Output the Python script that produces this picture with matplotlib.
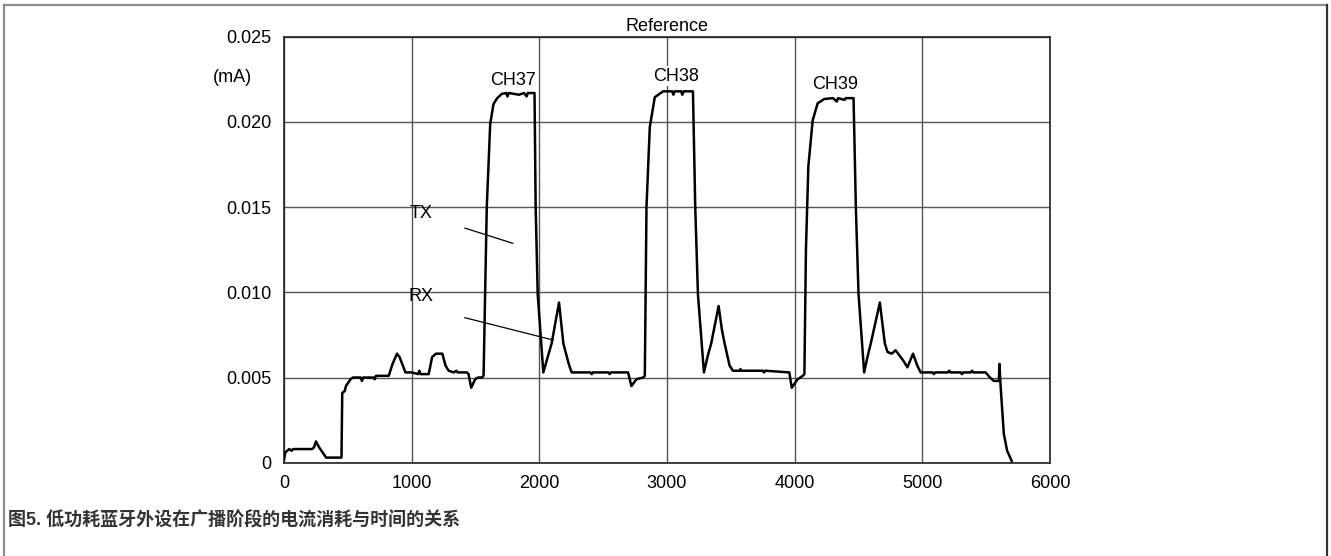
import matplotlib
matplotlib.use('Agg')
import matplotlib.pyplot as plt
from matplotlib.lines import Line2D
from matplotlib.ticker import FuncFormatter

plt.rcParams['font.family'] = ['Liberation Sans', 'Noto Sans CJK SC']

# current trace of the advertising event (time, mA)
time = [0, 10, 40, 60, 70, 220, 235, 250, 275, 312, 330, 450,
        456, 475, 485, 521, 540, 600, 610, 620, 700, 710, 720, 820,
        850, 885, 905, 951, 1000, 1050, 1060, 1070, 1133, 1160, 1190, 1240,
        1265, 1289, 1330, 1350, 1360, 1432, 1445, 1466, 1497, 1520, 1549, 1563,
        1588, 1615, 1641, 1670, 1706, 1740, 1750, 1760, 1840, 1880, 1900, 1910,
        1953, 1962, 1971, 1987, 2031, 2065, 2096, 2154, 2188, 2230, 2253, 2400,
        2410, 2420, 2540, 2550, 2560, 2695, 2721, 2760, 2813, 2826, 2839, 2865,
        2904, 2969, 3040, 3050, 3060, 3110, 3120, 3130, 3203, 3221, 3242, 3289,
        3320, 3346, 3404, 3430, 3451, 3490, 3516, 3570, 3575, 3580, 3750, 3760,
        3770, 3958, 3977, 4023, 4063, 4076, 4088, 4107, 4141, 4180, 4232, 4300,
        4330, 4340, 4390, 4400, 4461, 4479, 4500, 4544, 4570, 4596, 4667, 4706,
        4727, 4760, 4790, 4810, 4850, 4883, 4927, 4960, 4987, 5080, 5090, 5100,
        5200, 5210, 5220, 5300, 5310, 5320, 5380, 5390, 5400, 5495, 5530, 5560,
        5599, 5604, 5612, 5625, 5638, 5664, 5700]
current = [0.0002, 0.0006, 0.0008, 0.0007, 0.0008, 0.0008, 0.0009, 0.00125, 0.0009, 0.0005, 0.0003, 0.0003,
           0.0041, 0.0042, 0.0045, 0.0049, 0.0050, 0.0050, 0.0048, 0.0050, 0.0050, 0.0049, 0.0051, 0.0051,
           0.0058, 0.0064, 0.0062, 0.0053, 0.0053, 0.0052, 0.0054, 0.0052, 0.0052, 0.0062, 0.0064, 0.0064,
           0.0057, 0.0054, 0.0053, 0.0054, 0.0053, 0.0053, 0.0052, 0.0044, 0.0049, 0.0050, 0.0050, 0.0051,
           0.0150, 0.0199, 0.02106, 0.0214, 0.02165, 0.0217, 0.0215, 0.0217, 0.0216, 0.0217, 0.0215, 0.0217,
           0.0217, 0.0217, 0.0150, 0.0099, 0.0053, 0.0062, 0.0070, 0.0094, 0.0070, 0.0058, 0.0053, 0.0053,
           0.0052, 0.0053, 0.0053, 0.0052, 0.0053, 0.0053, 0.0045, 0.0049, 0.0050, 0.0051, 0.0150, 0.0197,
           0.02145, 0.0218, 0.0218, 0.0216, 0.0218, 0.0218, 0.0216, 0.0218, 0.0218, 0.0150, 0.0099, 0.0053,
           0.0063, 0.0070, 0.0092, 0.0078, 0.0070, 0.0057, 0.0054, 0.0054, 0.0055, 0.0054, 0.0054, 0.0053,
           0.0054, 0.0053, 0.0044, 0.0049, 0.0051, 0.0052, 0.0125, 0.0174, 0.0201, 0.0211, 0.02135, 0.0214,
           0.0212, 0.0214, 0.0213, 0.0214, 0.0214, 0.0150, 0.0099, 0.0053, 0.0062, 0.0070, 0.0094, 0.0070,
           0.0065, 0.0064, 0.0066, 0.0064, 0.0060, 0.0056, 0.0064, 0.0057, 0.0053, 0.0053, 0.0052, 0.0053,
           0.0053, 0.0054, 0.0053, 0.0053, 0.0052, 0.0053, 0.0053, 0.0054, 0.0053, 0.0053, 0.0050, 0.0048,
           0.0048, 0.0058, 0.0046, 0.0031, 0.0017, 0.0007, 0.0001]

x_ticks = [0, 1000, 2000, 3000, 4000, 5000, 6000]
y_ticks = [0, 0.005, 0.010, 0.015, 0.020, 0.025]

channels = ['CH37', 'CH38', 'CH39']
channel_pos = [(1795, 0.02246), (3069, 0.02269), (4320, 0.0222)]

fig = plt.figure(figsize=(13.31, 5.56), dpi=100)
ax = fig.add_axes([0.2134, 0.1678, 0.5755, 0.766])

ax.plot(time, current, color='black', lw=1.8, zorder=3)

ax.set_xlim(0, 6000)
ax.set_ylim(0, 0.025)
ax.set_xticks(x_ticks)
ax.set_yticks(y_ticks)
ax.yaxis.set_major_formatter(FuncFormatter(lambda v, p: '0' if v == 0 else '%.3f' % v))
ax.tick_params(length=0, labelsize=13, pad=9)
ax.grid(True, color='#555555', lw=1.0)
for s in ax.spines.values():
    s.set_color('#222222')
    s.set_linewidth(1.2)

ax.set_title('Reference', fontsize=13, pad=4)
ax.text(-0.068, 0.905, '(mA)', transform=ax.transAxes, ha='center', va='center', fontsize=13)

for name, (cx, cy) in zip(channels, channel_pos):
    ax.text(cx, cy, name, ha='center', va='center', fontsize=13, zorder=4,
            bbox=dict(facecolor='white', edgecolor='none', pad=1))

# TX / RX callouts
ax.text(1073, 0.01464, 'TX', ha='center', va='center', fontsize=13)
ax.plot([1417, 1791], [0.01377, 0.01288], color='black', lw=0.9)
ax.text(1073, 0.00973, 'RX', ha='center', va='center', fontsize=13)
ax.plot([1417, 2109], [0.00851, 0.0072], color='black', lw=0.9)

fig.text(8 / 1331, 1 - 520 / 556, '图5. 低功耗蓝牙外设在广播阶段的电流消耗与时间的关系',
         fontsize=13, fontweight='bold', color='#333333', ha='left', va='center')

# outer frame
W, H = 1331, 556
fig.add_artist(Line2D([4 / W, 1327 / W], [1 - 5 / H, 1 - 5 / H], transform=fig.transFigure,
                      color='#8c8c8c', lw=1.6))
fig.add_artist(Line2D([4 / W, 4 / W], [0, 1 - 5 / H], transform=fig.transFigure,
                      color='#8c8c8c', lw=1.6))
fig.add_artist(Line2D([1327 / W, 1327 / W], [0, 1 - 5 / H], transform=fig.transFigure,
                      color='#333333', lw=1.6))

fig.savefig('out.png', dpi=100)
